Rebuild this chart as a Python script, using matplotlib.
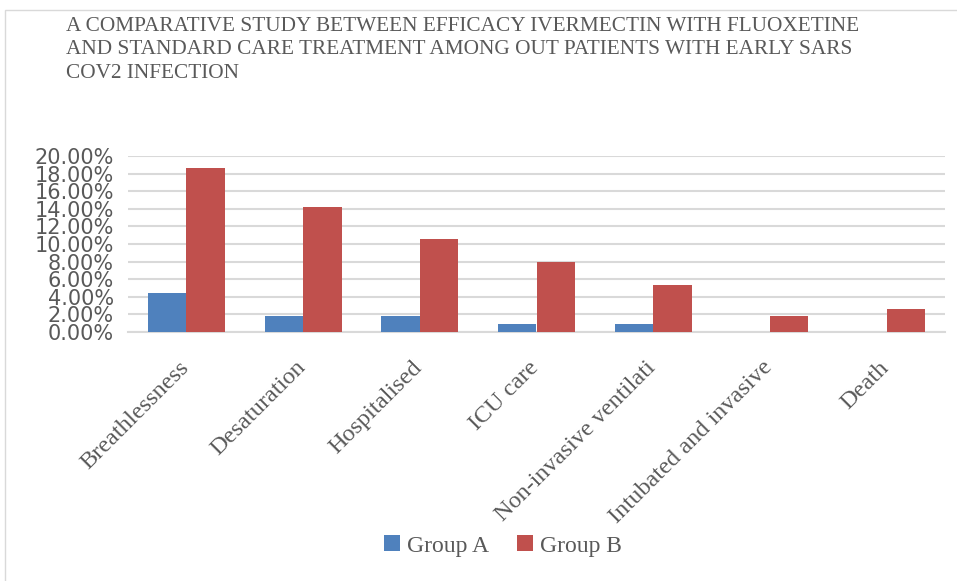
import numpy as np
import matplotlib.pyplot as plt
import matplotlib.transforms as mtransforms
from matplotlib.patches import Rectangle
from matplotlib.ticker import FuncFormatter, MultipleLocator

categories = ['Breathlessness', 'Desaturation', 'Hospitalised', 'ICU care',
              'Non-invasive ventilati', 'Intubated and invasive', 'Death']
group_a = [4.42, 1.77, 1.77, 0.88, 0.88, 0.0, 0.0]
group_b = [18.58, 14.16, 10.62, 7.96, 5.31, 1.77, 2.65]
series_names = ['Group A', 'Group B']

title = ('A COMPARATIVE STUDY BETWEEN EFFICACY IVERMECTIN WITH FLUOXETINE\n'
         'AND STANDARD CARE TREATMENT AMONG OUT PATIENTS WITH EARLY SARS\n'
         'COV2 INFECTION')

blue = '#4F81BD'
red = '#C0504D'
gray_text = '#595959'
serif = ['Liberation Serif', 'DejaVu Serif']

fig = plt.figure(figsize=(9.57, 5.81), dpi=100)
# light frame around the chart area
fig.patches.append(Rectangle((5 / 957, -0.1), 1.2, 1 - 10 / 581 + 0.1, transform=fig.transFigure,
                             fill=False, edgecolor='#d9d9d9', linewidth=1))

ax = fig.add_axes([128 / 957, 1 - 332 / 581, (945 - 128) / 957, (332 - 156) / 581])

x = np.arange(len(categories))
w = 0.33
ax.bar(x - w / 2, group_a, w, color=blue, label=series_names[0], zorder=3)
ax.bar(x + w / 2, group_b, w, color=red, label=series_names[1], zorder=3)

ax.set_xlim(-0.5, len(categories) - 0.5)
ax.set_ylim(0, 20)
ax.yaxis.set_major_locator(MultipleLocator(2))
ax.yaxis.set_major_formatter(FuncFormatter(lambda v, p: f'{v:.2f}%'))
ax.grid(axis='y', color='#d9d9d9', linewidth=1.5, zorder=0)
for s in ['top', 'right', 'left']:
    ax.spines[s].set_visible(False)
ax.spines['bottom'].set_color('#d9d9d9')
ax.spines['bottom'].set_linewidth(1.5)
ax.tick_params(axis='both', length=0)
ax.tick_params(axis='y', labelsize=15, labelcolor=gray_text, pad=10)

ax.set_xticks(x)
ax.set_xticklabels(categories, rotation=45, ha='right', rotation_mode='anchor',
                   family=serif, fontsize=17.5, color=gray_text)
ax.tick_params(axis='x', pad=18)
shift = mtransforms.ScaledTranslation(-8 / 100, 0, fig.dpi_scale_trans)
for lbl in ax.get_xticklabels():
    lbl.set_transform(lbl.get_transform() + shift)

fig.text(66 / 957, 1 - 17 / 581, title, ha='left', va='top', family=serif,
         fontsize=15.3, color=gray_text, linespacing=1.32)

leg = fig.legend(loc='center', bbox_to_anchor=(503 / 957, 1 - 546 / 581), ncol=2,
                 frameon=False, prop={'family': serif, 'size': 17},
                 handlelength=0.65, handleheight=0.65, handletextpad=0.3, columnspacing=1.2)
for t in leg.get_texts():
    t.set_color(gray_text)

fig.savefig('out.png', dpi=100)
